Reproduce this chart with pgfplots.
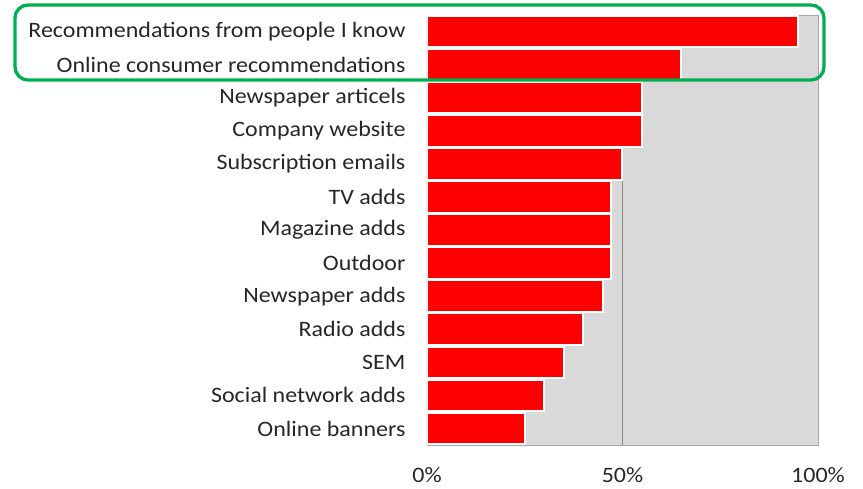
\documentclass[border=0pt]{standalone}
\usepackage{pgfplots}
\pgfplotsset{compat=1.18}
\usepackage{fontspec}
\setmainfont{Carlito}[FakeStretch=1.09]
\definecolor{barred}{RGB}{255,0,0}
\definecolor{bggray}{RGB}{217,217,217}
\definecolor{framegray}{RGB}{166,166,166}
\definecolor{gridgray}{RGB}{134,134,134}
\definecolor{exgreen}{RGB}{0,176,80}
\definecolor{txt}{RGB}{38,38,38}
\begin{document}
\begin{tikzpicture}[x=1pt,y=1pt]
\useasboundingbox (0,0) rectangle (863,488);
\begin{axis}[
  at={(427pt,43pt)}, anchor=south west,
  scale only axis, width=391pt, height=430pt,
  xmin=0, xmax=100, ymin=0.5, ymax=13.5, y dir=reverse,
  xbar, bar width=31.5pt,
  ytick={1,...,13},
  yticklabels={Recommendations from people I know,Online consumer recommendations,Newspaper articels,Company website,Subscription emails,TV adds,Magazine adds,Outdoor,Newspaper adds,Radio adds,SEM,Social network adds,Online banners},
  xtick={0,50,100}, xticklabels={0\%,50\%,100\%},
  major tick length=0pt,
  tick style={draw=none},
  axis background/.style={fill=bggray},
  axis line style={framegray, line width=0.8pt},
  xmajorgrids, grid style={gridgray, line width=0.8pt},
  yticklabel style={font=\fontsize{22}{26}\selectfont, text=txt, xshift=-18pt},
  xticklabel style={font=\fontsize{22}{26}\selectfont, text=txt, yshift=-19pt},
]
\addplot[fill=barred, draw=white, line width=2pt] coordinates {
(95,1) (65,2) (55,3) (55,4) (50,5) (47,6) (47,7) (47,8) (45,9) (40,10) (35,11) (30,12) (25,13)};
\end{axis}
\draw[exgreen, line width=3.3pt, rounded corners=13pt] (15,408) rectangle (824,483);
\end{tikzpicture}
\end{document}
